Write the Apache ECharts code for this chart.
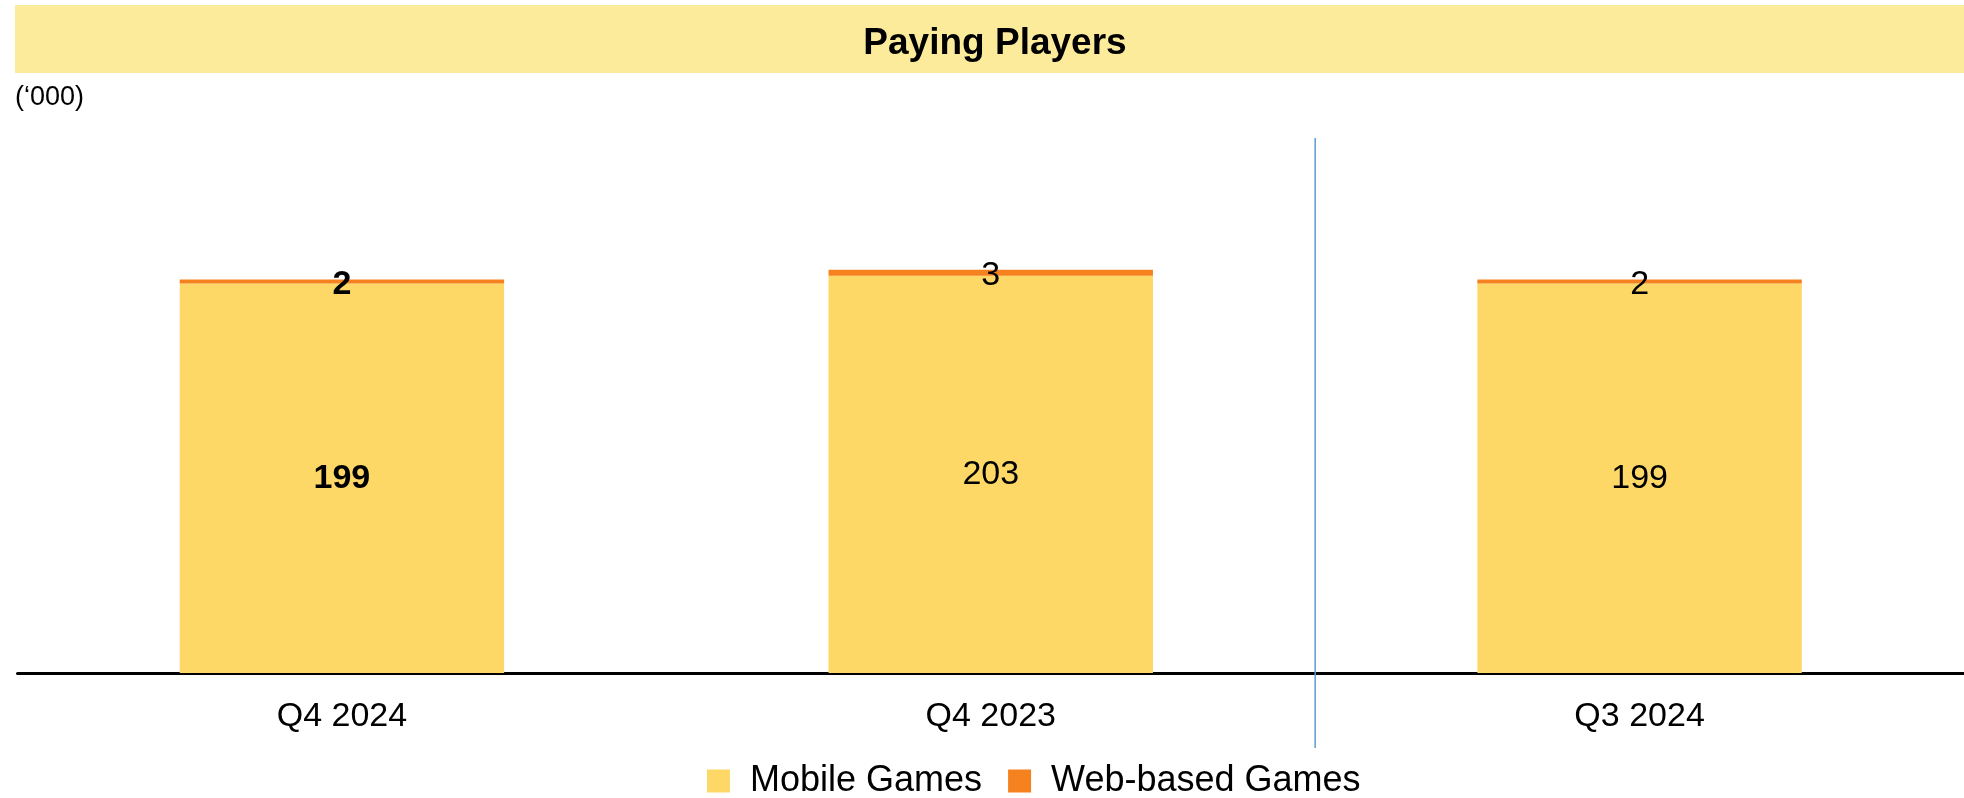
<!DOCTYPE html>
<html>
<head>
<meta charset="utf-8">
<script src="https://cdn.jsdelivr.net/npm/echarts@6/dist/echarts.min.js"></script>
<style>
  html, body { margin: 0; padding: 0; background: #ffffff; }
  #chart { width: 1964px; height: 798px; }
</style>
</head>
<body>
<div id="chart"></div>
<script>
// Paying players by quarter, in thousands
const categories = ['Q4 2024', 'Q4 2023', 'Q3 2024'];
const mobileGames = [199, 203, 199];
const webGames = [2, 3, 2];
const seriesNames = ['Mobile Games', 'Web-based Games'];

const MOBILE_COLOR = '#FDD866';
const WEB_COLOR = '#F5821F';
const NARROW = '"Liberation Sans Narrow", "Arial Narrow", "Liberation Sans", Arial, sans-serif';
const SANS = '"Liberation Sans", Arial, sans-serif';

// the current quarter is emphasised in bold
function labelled(values) {
  return values.map((v, i) => ({
    value: v,
    label: { fontWeight: i === 0 ? 'bold' : 'normal' }
  }));
}

const chart = echarts.init(document.getElementById('chart'));

chart.setOption({
  animation: false,
  backgroundColor: '#ffffff',
  title: {
    text: 'Paying Players',
    left: 990,
    top: 20,
    textAlign: 'center',
    textStyle: { fontFamily: SANS, fontSize: 37, fontWeight: 'bold', color: '#000000' }
  },
  legend: {
    data: seriesNames,
    left: 707,
    top: 763,
    padding: 0,
    itemWidth: 23,
    itemHeight: 23,
    itemGap: 26,
    icon: 'rect',
    textStyle: { fontFamily: SANS, fontSize: 36, lineHeight: 34, color: '#000000', padding: [0, 0, 0, 15] }
  },
  grid: { left: 17.5, right: 0, top: 125, bottom: 125, containLabel: false },
  xAxis: {
    type: 'category',
    data: categories,
    axisLine: { show: true, lineStyle: { color: '#000000', width: 3 } },
    axisTick: { show: false },
    axisLabel: { fontFamily: SANS, fontSize: 34, color: '#000000', margin: 27 }
  },
  yAxis: {
    type: 'value', min: 0, max: 280,
    show: false,
    splitLine: { show: false }
  },
  series: [
    {
      name: seriesNames[0],
      type: 'bar',
      stack: 'players',
      barWidth: '50%',
      itemStyle: { color: MOBILE_COLOR },
      label: { show: true, position: 'inside', fontFamily: NARROW, fontSize: 34, color: '#000000' },
      data: labelled(mobileGames)
    },
    {
      name: seriesNames[1],
      type: 'bar',
      stack: 'players',
      barWidth: '50%',
      itemStyle: { color: WEB_COLOR },
      label: { show: true, position: 'inside', fontFamily: NARROW, fontSize: 34, color: '#000000', offset: [0, 3] },
      data: labelled(webGames)
    }
  ]
});

// vertical separator between the year-on-year and quarter-on-quarter comparisons
const xa = chart.convertToPixel({ xAxisIndex: 0 }, categories[1]);
const xb = chart.convertToPixel({ xAxisIndex: 0 }, categories[2]);
const sepX = (xa + xb) / 2;
chart.setOption({
  graphic: [
    {
      type: 'rect', z: -10,
      shape: { x: 15, y: 5, width: 1949, height: 68 },
      style: { fill: '#FDEB9C' }
    },
    {
      type: 'text', left: 15, top: 84,
      style: { text: '(\u2018000)', font: '27px ' + SANS, fill: '#000000' }
    },
    {
      type: 'line', z: 10,
      shape: { x1: sepX, y1: 138, x2: sepX, y2: 748 },
      style: { stroke: '#5B9BD5', lineWidth: 1.5 }
    }
  ]
});
</script>
</body>
</html>
